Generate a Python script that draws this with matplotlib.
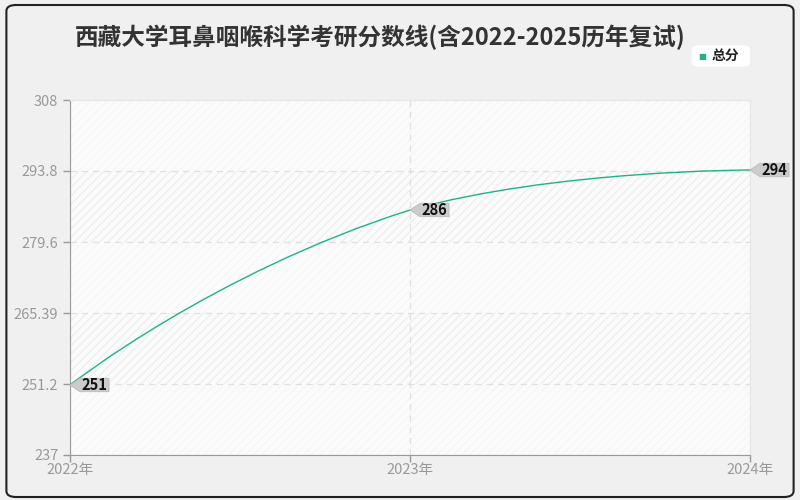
import numpy as np
import matplotlib.pyplot as plt
import matplotlib.transforms as mtransforms
from matplotlib.path import Path
from matplotlib.patches import PathPatch, Polygon, FancyBboxPatch

plt.rcParams['font.family'] = ['Noto Sans CJK SC', 'DejaVu Sans']

# data
years = [2022, 2023, 2024]
year_labels = ['2022年', '2023年', '2024年']
scores = [251, 286, 294]
y_ticks = [237, 251.2, 265.39, 279.6, 293.8, 308]
y_tick_labels = ['237', '251.2', '265.39', '279.6', '293.8', '308']
title = '西藏大学耳鼻咽喉科学考研分数线(含2022-2025历年复试)'
series_name = '总分'

line_color = '#1db386'
grid_color = '#e0e0e0'
tick_color = '#999999'

fig = plt.figure(figsize=(8, 5), dpi=100)
fig.patch.set_facecolor('#f0f0f0')

# rounded outer frame
frame = FancyBboxPatch((0.008, 0.006), 0.984, 0.984, boxstyle='round,pad=0,rounding_size=0.012',
                       transform=fig.transFigure, facecolor='none', edgecolor='#222222',
                       linewidth=1.5)
fig.patches.append(frame)

ax = fig.add_axes([0.0875, 0.09, 0.85, 0.71])
ax.set_facecolor('#fbfbfb')

ax.set_xlim(years[0], years[-1])
ax.set_ylim(y_ticks[0], y_ticks[-1])

# striped bands between gridlines
plt.rcParams['hatch.linewidth'] = 0.8
for i in range(len(y_ticks) - 1):
    ec = '#ececec' if i % 2 == 1 else '#f5f5f5'
    ax.axhspan(y_ticks[i], y_ticks[i + 1], facecolor='none', edgecolor=ec,
               hatch='////', linewidth=0, zorder=0)

ax.set_xticks(years)
ax.set_xticklabels(year_labels)
ax.set_yticks(y_ticks)
ax.set_yticklabels(y_tick_labels)
ax.tick_params(colors=tick_color, labelsize=10.5, length=5, width=1)
ax.tick_params(axis='x', pad=1)

for side in ['top', 'right']:
    ax.spines[side].set_color('#e6e6e6')
for side in ['left', 'bottom']:
    ax.spines[side].set_color('#999999')

ax.grid(True, color=grid_color, linestyle=(0, (5, 4)), linewidth=0.9)
ax.set_axisbelow(True)

# smooth line through points (bezier controls in axes units, ends use the point itself)
pts = ax.transLimits.transform(np.column_stack([years, scores]))
smooth = 0.5
n = len(pts)
ymin, ymax = pts[:, 1].min(), pts[:, 1].max()
ctrl = []
for i in range(n):
    if i == 0 or i == n - 1:
        ctrl.append((pts[i], pts[i]))
        continue
    prev, nxt = pts[i - 1], pts[i + 1]
    v = nxt - prev
    d0 = np.hypot(*(pts[i] - prev))
    d1 = np.hypot(*(nxt - pts[i]))
    cb = pts[i] - v * smooth * d0 / (d0 + d1)
    ca = pts[i] + v * smooth * d1 / (d0 + d1)
    cb[1] = np.clip(cb[1], ymin, ymax)
    ca[1] = np.clip(ca[1], ymin, ymax)
    ctrl.append((cb, ca))
verts = [pts[0]]
codes = [Path.MOVETO]
for i in range(n - 1):
    verts += [ctrl[i][1], ctrl[i + 1][0], pts[i + 1]]
    codes += [Path.CURVE4] * 3
ax.add_patch(PathPatch(Path(verts, codes), transform=ax.transAxes, facecolor='none',
                       edgecolor=line_color, linewidth=1, zorder=3))

# value tags
for x, y in zip(years, scores):
    trans = fig.dpi_scale_trans + mtransforms.ScaledTranslation(x, y, ax.transData)
    w = 0.39
    tag = Polygon([(0, 0), (0.1, 0.067), (w, 0.067), (w, -0.067), (0.1, -0.067)],
                  closed=True, transform=trans, facecolor='#cccccc', edgecolor='#bbbbbb',
                  linewidth=0.6, clip_on=False, zorder=4)
    ax.add_patch(tag)
    ax.annotate(str(y), (x, y), xytext=(8.5, 0), textcoords='offset points',
                ha='left', va='center', fontsize=10.5, fontweight='bold', color='#111111',
                annotation_clip=False, zorder=5)

# title
fig.text(0.475, 0.926, title, ha='center', va='center', fontsize=17,
         fontweight='bold', color='#333333')

# legend
leg_box = FancyBboxPatch((0.864, 0.866), 0.074, 0.044, boxstyle='round,pad=0,rounding_size=0.008',
                         transform=fig.transFigure, facecolor='white', edgecolor='#eeeeee',
                         linewidth=0.5)
fig.patches.append(leg_box)
fig.text(0.878, 0.888, '■', ha='center', va='center', fontsize=6, color=line_color,
         family='DejaVu Sans')
fig.text(0.889, 0.888, series_name, ha='left', va='center', fontsize=10,
         fontweight='bold', color='#222222')

fig.savefig('out.png', dpi=100, facecolor=fig.get_facecolor())
